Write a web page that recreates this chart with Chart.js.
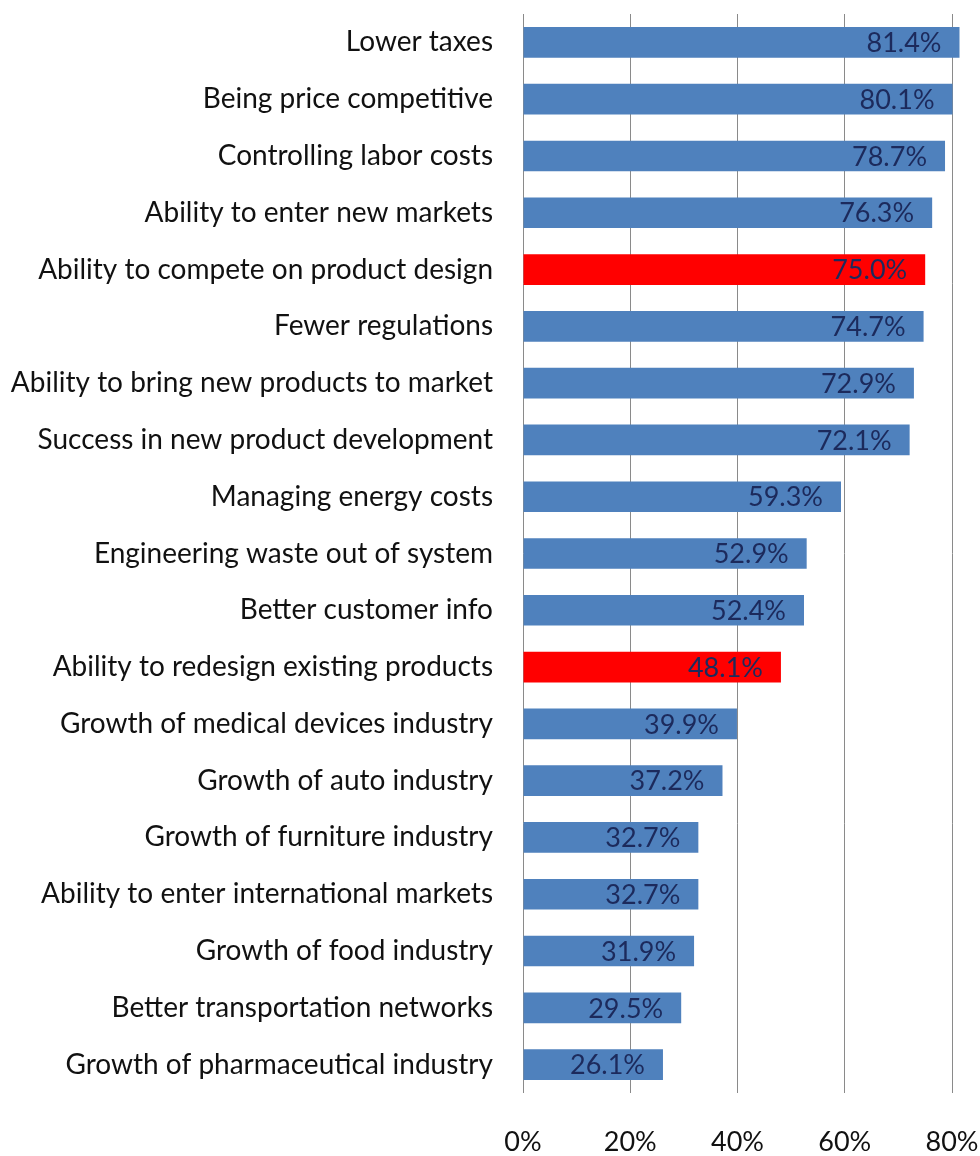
<!DOCTYPE html>
<html>
<head>
<meta charset="utf-8">
<script src="https://cdn.jsdelivr.net/npm/chart.js@4/dist/chart.umd.min.js"></script>
<style>
  html, body { margin: 0; padding: 0; background: #fff; overflow: hidden; }
  #wrap { width: 980px; height: 1156px; }
</style>
</head>
<body>
<div id="wrap"><canvas id="chart"></canvas></div>
<script>
const categories = [
  'Lower taxes',
  'Being price competitive',
  'Controlling labor costs',
  'Ability to enter new markets',
  'Ability to compete on product design',
  'Fewer regulations',
  'Ability to bring new products to market',
  'Success in new product development',
  'Managing energy costs',
  'Engineering waste out of system',
  'Better customer info',
  'Ability to redesign existing products',
  'Growth of medical devices industry',
  'Growth of auto industry',
  'Growth of furniture industry',
  'Ability to enter international markets',
  'Growth of food industry',
  'Better transportation networks',
  'Growth of pharmaceutical industry'
];
const values = [81.4, 80.1, 78.7, 76.3, 75.0, 74.7, 72.9, 72.1, 59.3, 52.9, 52.4, 48.1, 39.9, 37.2, 32.7, 32.7, 31.9, 29.5, 26.1];
const highlighted = ['Ability to compete on product design', 'Ability to redesign existing products'];
const tickValues = [0, 20, 40, 60, 80];

const FONT = 'Lato, "Open Sans", sans-serif';

// draws the value text inside the end of each bar
const barLabels = {
  id: 'barLabels',
  afterDatasetsDraw(chart) {
    const ctx = chart.ctx;
    const meta = chart.getDatasetMeta(0);
    ctx.save();
    ctx.font = '27px ' + FONT;
    ctx.fillStyle = '#1c2a5c';
    ctx.textAlign = 'right';
    ctx.textBaseline = 'middle';
    meta.data.forEach((bar, i) => {
      ctx.fillText(values[i].toFixed(1) + '%', bar.x - 18, bar.y + 1);
    });
    ctx.restore();
  }
};

const ctx = document.getElementById('chart').getContext('2d');
new Chart(ctx, {
  type: 'bar',
  data: {
    labels: categories,
    datasets: [{
      data: values,
      backgroundColor: categories.map(c => highlighted.includes(c) ? '#ff0000' : '#4f81bd'),
      borderWidth: 0,
      categoryPercentage: 1,
      barPercentage: 0.54,
      clip: false
    }]
  },
  options: {
    indexAxis: 'y',
    responsive: true,
    maintainAspectRatio: false,
    animation: false,
    layout: { padding: { top: 14, right: 28, left: 0, bottom: 0 } },
    plugins: {
      legend: { display: false },
      tooltip: { enabled: false }
    },
    scales: {
      x: {
        min: 0,
        max: 80,
        afterBuildTicks: (scale) => { scale.ticks = tickValues.map(v => ({ value: v })); },
        afterFit: (scale) => {
          scale.height = 63;
          scale.paddingLeft = 0;
          scale.paddingRight = 0;
        },
        grid: { color: '#8a8a8a', lineWidth: 1, drawTicks: false },
        border: { display: false },
        ticks: {
          padding: 33,
          color: '#111',
          font: { family: FONT, size: 27 },
          callback: (v) => v + '%'
        }
      },
      y: {
        afterFit: (scale) => {
          scale.width = 523;
          scale.paddingTop = 0;
          scale.paddingBottom = 0;
        },
        grid: { display: false },
        border: { display: false },
        ticks: {
          padding: 22,
          color: '#111',
          font: { family: FONT, size: 28 }
        }
      }
    }
  },
  plugins: [barLabels]
});
</script>
</body>
</html>
